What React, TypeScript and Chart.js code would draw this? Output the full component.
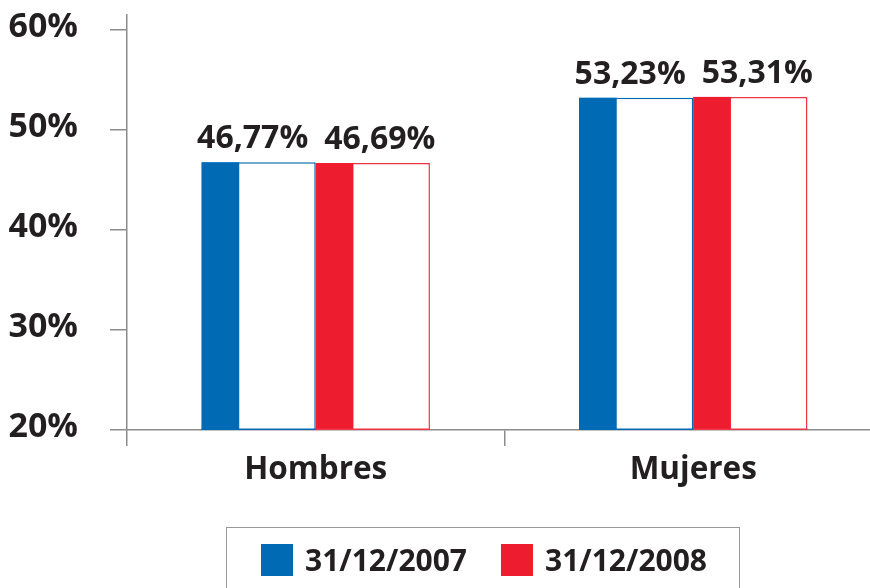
import React, { useEffect, useRef } from "react";
import { Chart, registerables } from "chart.js";

Chart.register(...registerables);

const categories = ["Hombres", "Mujeres"];
const seriesLabels = ["31/12/2007", "31/12/2008"];
const series2007 = [46.77, 53.23];
const series2008 = [46.69, 53.31];
const yTickValues = [20, 30, 40, 50, 60];

const BLUE = "#006ab4";
const RED = "#ed1c2e";
const RED_BORDER = "#ee3446";
const GRAY = "#8c8c8c";
const TEXT = "#231f20";
const FONT = "'Open Sans', 'DejaVu Sans', sans-serif";

const fmt = (v: number) => v.toFixed(2).replace(".", ",") + "%";

const halfFillPlugin = {
  id: "halfFill",
  afterDatasetsDraw(chart: any) {
    const ctx = chart.ctx;
    const bottom = chart.chartArea.bottom;
    ctx.save();
    chart.data.datasets.forEach((ds: any, di: number) => {
      const meta = chart.getDatasetMeta(di);
      meta.data.forEach((el: any, i: number) => {
        const p = el.getProps(["x", "y", "base", "width"], true);
        const base = Math.min(p.base, bottom);
        const left = p.x - p.width / 2;
        ctx.fillStyle = ds.solidColor;
        ctx.fillRect(left, p.y, p.width * 0.33, base - p.y);
        // bottom border
        ctx.strokeStyle = ds.borderColor;
        ctx.lineWidth = 1.5;
        ctx.beginPath();
        ctx.moveTo(left, base - 0.75);
        ctx.lineTo(left + p.width, base - 0.75);
        ctx.stroke();
        // value label
        ctx.fillStyle = TEXT;
        ctx.font = `bold 32px ${FONT}`;
        ctx.textAlign = "center";
        ctx.textBaseline = "alphabetic";
        ctx.fillText(fmt(ds.data[i]), p.x + ds.labelShift, p.y - 14);
      });
    });
    ctx.restore();
  },
};

export default function App() {
  const ref = useRef<HTMLCanvasElement | null>(null);

  useEffect(() => {
    if (!ref.current) return;
    const chart = new Chart(ref.current, {
      type: "bar",
      data: {
        labels: categories,
        datasets: [
          {
            label: seriesLabels[0],
            data: series2007,
            backgroundColor: "#ffffff",
            borderColor: BLUE,
            borderWidth: 1.5,
            borderSkipped: false,
            solidColor: BLUE,
            labelShift: -6,
          } as any,
          {
            label: seriesLabels[1],
            data: series2008,
            backgroundColor: "#ffffff",
            borderColor: RED_BORDER,
            borderWidth: 1.5,
            borderSkipped: false,
            solidColor: RED,
            labelShift: 7,
          } as any,
        ],
      },
      options: {
        responsive: false,
        animation: false,
        layout: { padding: { top: 15, bottom: 88, left: 0, right: 0 } },
        plugins: {
          legend: { display: false },
          tooltip: { enabled: false },
        },
        datasets: {
          bar: { categoryPercentage: 0.605, barPercentage: 1 },
        },
        scales: {
          x: {
            grid: {
              display: true,
              drawOnChartArea: false,
              drawTicks: true,
              tickLength: 16,
              color: GRAY,
              lineWidth: 1.5,
              offset: true,
            },
            border: { color: GRAY, width: 1.5 },
            ticks: {
              color: TEXT,
              font: { family: FONT, size: 31.5, weight: "bold" },
              padding: 5,
            },
            afterFit: (s: any) => {
              s.height = 70;
              s.paddingLeft = 0;
              s.paddingRight = 0;
            },
          },
          y: {
            min: 20,
            max: 61.5,
            grid: {
              display: true,
              drawOnChartArea: false,
              drawTicks: true,
              tickLength: 17,
              color: GRAY,
              lineWidth: 1.5,
            },
            border: { color: GRAY, width: 1.5 },
            ticks: {
              stepSize: 10,
              color: TEXT,
              font: { family: FONT, size: 34, weight: "bold" },
              padding: 32,
              labelOffset: -3,
              callback: (v: any) => v + "%",
            },
            afterBuildTicks: (s: any) => {
              s.ticks = yTickValues.map((v) => ({ value: v }));
            },
            afterFit: (s: any) => {
              s.width = 127;
              s.paddingTop = 0;
              s.paddingBottom = 0;
            },
          },
        },
      } as any,
      plugins: [halfFillPlugin],
    });
    return () => chart.destroy();
  }, []);

  const legendText: React.CSSProperties = {
    fontFamily: FONT,
    fontWeight: 700,
    fontSize: 30,
    color: TEXT,
    lineHeight: "32px",
  };
  const sq = (c: string): React.CSSProperties => ({
    width: 32,
    height: 32,
    background: c,
    flex: "none",
  });

  return (
    <div
      style={{
        position: "fixed",
        left: 0,
        top: 0,
        width: 870,
        height: 588,
        overflow: "hidden",
        background: "#ffffff",
      }}
    >
      <canvas ref={ref} width={882} height={588} style={{ display: "block" }} />
      <div
        style={{
          position: "absolute",
          left: 226,
          top: 527,
          width: 514,
          height: 80,
          border: `1.5px solid #999999`,
          boxSizing: "border-box",
        }}
      >
        <div style={{ position: "absolute", left: 34, top: 16, display: "flex", alignItems: "center" }}>
          <div style={sq(BLUE)} />
          <span style={{ ...legendText, marginLeft: 12 }}>{seriesLabels[0]}</span>
          <div style={{ ...sq(RED), marginLeft: 34 }} />
          <span style={{ ...legendText, marginLeft: 12 }}>{seriesLabels[1]}</span>
        </div>
      </div>
    </div>
  );
}
